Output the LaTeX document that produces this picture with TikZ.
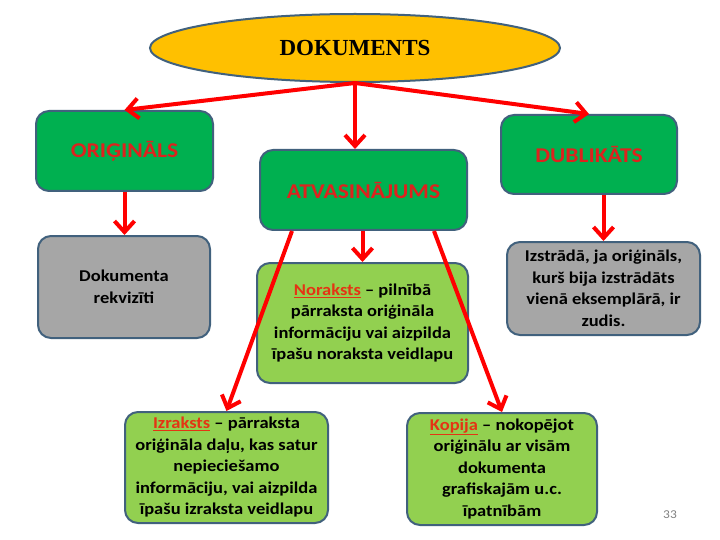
\documentclass[tikz,border=0pt]{standalone}
\usepackage{fontspec}
\setmainfont{Carlito}[FakeStretch=1.12]
\newfontfamily\titlefont{Liberation Serif}
\usetikzlibrary{shapes.geometric,arrows.meta}

\definecolor{boxline}{RGB}{65,97,125}
\definecolor{darkgreen}{RGB}{0,176,80}
\definecolor{lightgreen}{RGB}{146,208,80}
\definecolor{boxgray}{RGB}{166,166,166}
\definecolor{titleyellow}{RGB}{255,192,0}
\definecolor{headred}{RGB}{222,34,30}
\definecolor{termred}{RGB}{228,52,20}

\tikzset{
  box/.style={draw=boxline, line width=2pt, rounded corners=13pt, align=center,
    font=\bfseries\fontsize{16.5}{21.5}\selectfont, inner sep=2pt},
  headbox/.style={box, fill=darkgreen, text=headred,
    font=\bfseries\fontsize{21}{25}\selectfont},
  graybox/.style={box, fill=boxgray},
  textbox/.style={box, fill=lightgreen},
  link/.style={red, line width=4pt, -{Straight Barb[length=11pt,width=20pt]}}
}
\newcommand{\term}[1]{{\color{termred}\underline{#1}}}

\begin{document}
\begin{tikzpicture}[x=1pt, y=-1pt]
\useasboundingbox[fill=white] (0,0) rectangle (720,540);

% Title
\node[ellipse, draw=boxline, line width=2pt, fill=titleyellow,
  minimum width=410pt, minimum height=68pt,
  font=\titlefont\bfseries\fontsize{23}{27}\selectfont] (dok) at (355,48) {DOKUMENTS};

% Main kinds
\node[headbox, minimum width=177pt, minimum height=80pt] (orig) at (124.5,151) {ORIĢINĀLS};
\node[headbox, minimum width=207pt, minimum height=80pt] (atv) at (363.5,190) {ATVASINĀJUMS};
\node[headbox, minimum width=176pt, minimum height=79pt] (dubl) at (589,154.5) {DUBLIKĀTS};

% Descriptions
\node[graybox, minimum width=172pt, minimum height=102pt] (rekv) at (124,287)
  {Dokumenta\\rekvizīti};
\node[textbox, minimum width=211pt, minimum height=120pt] (nor) at (362.5,323)
  {\term{Noraksts} – pilnībā\\pārraksta oriģināla\\informāciju vai aizpilda\\īpašu noraksta veidlapu};
\node[graybox, minimum width=193pt, minimum height=93pt] (izstr) at (603.5,288.5)
  {Izstrādā, ja oriģināls,\\kurš bija izstrādāts\\vienā eksemplārā, ir\\zudis.};
\node[textbox, minimum width=203pt, minimum height=111pt] (izr) at (226.5,467.5)
  {\term{Izraksts} – pārraksta\\oriģināla daļu, kas satur\\nepieciešamo\\informāciju, vai aizpilda\\īpašu izraksta veidlapu};
\node[textbox, minimum width=190pt, minimum height=112pt] (kop) at (502,469)
  {\term{Kopija} – nokopējot\\oriģinālu ar visām\\dokumenta\\grafiskajām u.c.\\īpatnībām};

% Arrows
\draw[link] (dok.south) -- (orig.north);
\draw[link] (dok.south) -- (dok.south |- atv.north);
\draw[link] (dok.south) -- (dubl.north);
\draw[link] (orig.south) -- (orig.south |- rekv.north);
\draw[link] (nor.north |- atv.south) -- (nor.north);
\draw[link] (izstr.north |- dubl.south) -- (izstr.north);
\draw[link] ([xshift=33pt]atv.south west) -- (izr.north);
\draw[link] ([xshift=-34pt]atv.south east) -- (kop.north);

% Page number
\node[text=gray, font=\fontsize{12}{14}\selectfont] (page) at (670,515) {33};
\end{tikzpicture}
\end{document}
